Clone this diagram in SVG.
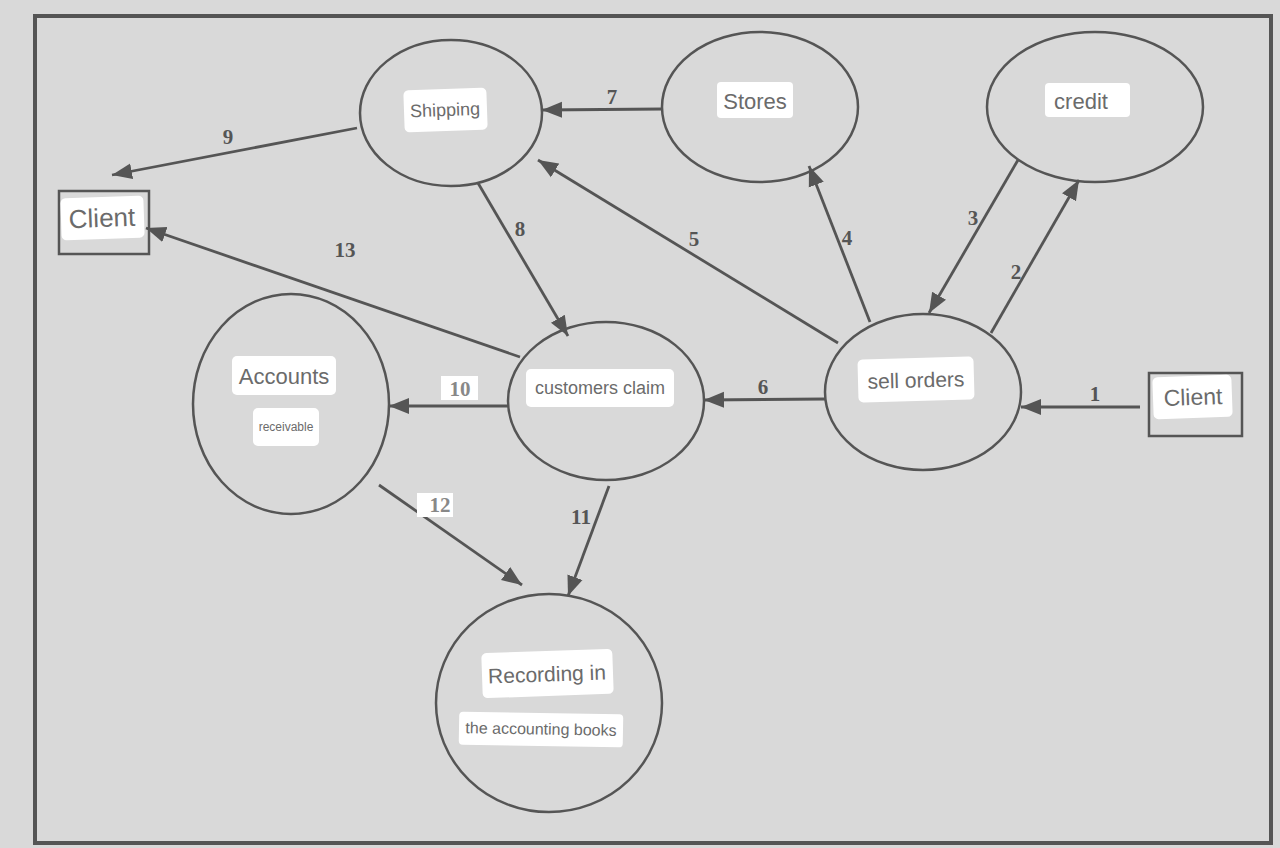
<svg xmlns="http://www.w3.org/2000/svg" width="1280" height="848" viewBox="0 0 1280 848">
<defs>
<style>
.node{fill:none;stroke:#555;stroke-width:2.5}
.lb{fill:#fff}
.t{font-family:"Liberation Sans",Arial,sans-serif;fill:#6b6b6b;text-anchor:middle;dominant-baseline:central}
.num{font-family:"Liberation Serif","Times New Roman",serif;font-weight:bold;fill:#555;font-size:21px;text-anchor:middle;dominant-baseline:central}
.c{stroke:#555;stroke-width:2.8;fill:none;marker-end:url(#ah)}
</style>
<marker id="ah" markerUnits="userSpaceOnUse" markerWidth="22" markerHeight="18" refX="20" refY="9" orient="auto">
<path d="M0,1 L20,9 L0,17 Z" fill="#555"/>
</marker>
</defs>
<rect width="1280" height="848" fill="#d9d9d9"/>
<rect x="35" y="16" width="1236" height="827" fill="none" stroke="#555" stroke-width="4"/>

<g id="connectors">
<line class="c" x1="1140" y1="407" x2="1021" y2="407"/>
<line class="c" x1="991" y1="333" x2="1079" y2="180"/>
<line class="c" x1="1018" y1="160" x2="929" y2="313"/>
<line class="c" x1="870" y1="322" x2="809" y2="166"/>
<line class="c" x1="838" y1="343" x2="538" y2="160"/>
<line class="c" x1="825" y1="399" x2="704" y2="400"/>
<line class="c" x1="663" y1="109" x2="542" y2="110"/>
<line class="c" x1="478" y1="183" x2="568" y2="336"/>
<line class="c" x1="357" y1="128" x2="112" y2="175"/>
<line class="c" x1="520" y1="357" x2="146" y2="228"/>
<line class="c" x1="508" y1="406" x2="389" y2="406"/>
<line class="c" x1="609" y1="486" x2="568" y2="596"/>
<line class="c" x1="379" y1="485" x2="522" y2="585"/>
<text class="num" x="1095" y="394">1</text>
<text class="num" x="1016" y="272">2</text>
<text class="num" x="973" y="218">3</text>
<text class="num" x="847" y="238">4</text>
<text class="num" x="694" y="239">5</text>
<text class="num" x="763" y="387">6</text>
<text class="num" x="612" y="97">7</text>
<text class="num" x="520" y="229">8</text>
<text class="num" x="228" y="137">9</text>
<rect class="lb" x="441" y="376" width="37" height="24"/>
<text class="num" x="460" y="389" style="fill:#888">10</text>
<text class="num" x="581" y="517">11</text>
<rect class="lb" x="417" y="493" width="36" height="24"/>
<text class="num" x="440" y="505" style="fill:#888">12</text>
<text class="num" x="345" y="250">13</text>
</g>

<g id="client-left">
<rect class="node" x="59" y="191" width="90" height="63"/>
<rect class="lb" x="61" y="197" width="83" height="42" rx="5" transform="rotate(-2 102 218)"/>
<text class="t" x="102" y="218" font-size="26" transform="rotate(-2 102 218)">Client</text>
</g>

<g id="shipping">
<ellipse class="node" cx="451" cy="113" rx="91" ry="73"/>
<rect class="lb" x="404" y="89" width="83" height="42" rx="5" transform="rotate(-2 445 110)"/>
<text class="t" x="445" y="110" font-size="18" transform="rotate(-2 445 110)">Shipping</text>
</g>

<g id="stores">
<ellipse class="node" cx="760" cy="107" rx="98" ry="75"/>
<rect class="lb" x="717" y="82" width="76" height="36" rx="4"/>
<text class="t" x="755" y="101" font-size="22">Stores</text>
</g>

<g id="credit">
<ellipse class="node" cx="1095" cy="107" rx="108" ry="75"/>
<rect class="lb" x="1045" y="83" width="85" height="34" rx="4"/>
<text class="t" x="1081" y="101" font-size="22">credit</text>
</g>

<g id="accounts-receivable">
<ellipse class="node" cx="291" cy="404" rx="98" ry="110"/>
<rect class="lb" x="232" y="356" width="104" height="39" rx="5"/>
<text class="t" x="284" y="376" font-size="22">Accounts</text>
<rect class="lb" x="253" y="408" width="66" height="38" rx="5"/>
<text class="t" x="286" y="427" font-size="12">receivable</text>
</g>

<g id="customers-claim">
<ellipse class="node" cx="606" cy="401" rx="98" ry="79"/>
<rect class="lb" x="526" y="369" width="148" height="38" rx="5"/>
<text class="t" x="600" y="388" font-size="18">customers claim</text>
</g>

<g id="sell-orders">
<ellipse class="node" cx="923" cy="392" rx="98" ry="78"/>
<rect class="lb" x="858" y="358" width="116" height="43" rx="5" transform="rotate(-1.5 916 380)"/>
<text class="t" x="916" y="380" font-size="21" transform="rotate(-1.5 916 380)">sell orders</text>
</g>

<g id="client-right">
<rect class="node" x="1149" y="373" width="93" height="63"/>
<rect class="lb" x="1153" y="376" width="79" height="42" rx="5" transform="rotate(-2 1193 397)"/>
<text class="t" x="1193" y="397" font-size="23" transform="rotate(-2 1193 397)">Client</text>
</g>

<g id="recording">
<ellipse class="node" cx="549" cy="703" rx="113" ry="109"/>
<rect class="lb" x="482" y="651" width="131" height="45" rx="5" transform="rotate(-2 547 674)"/>
<text class="t" x="547" y="674" font-size="21" transform="rotate(-2 547 674)">Recording in</text>
<rect class="lb" x="459" y="713" width="164" height="33" rx="4" transform="rotate(1 541 729)"/>
<text class="t" x="541" y="729" font-size="16" transform="rotate(1 541 729)">the accounting books</text>
</g>
</svg>
